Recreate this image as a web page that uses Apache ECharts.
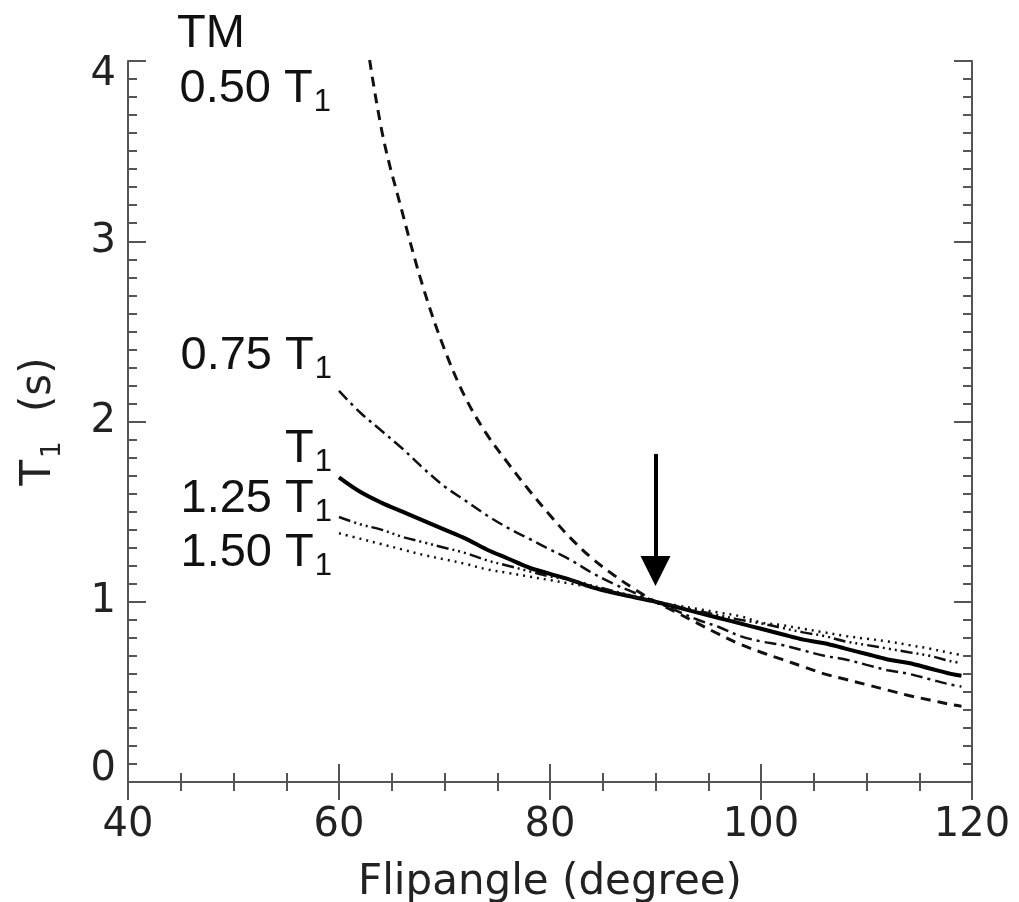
<!DOCTYPE html>
<html>
<head>
<meta charset="utf-8">
<script src="https://cdn.jsdelivr.net/npm/echarts@6/dist/echarts.min.js"></script>
<style>
html,body{margin:0;padding:0;background:#fff;}
#chart{width:1019px;height:902px;}
</style>
</head>
<body>
<div id="chart"></div>
<script>
// Flip angle samples (degree) shared by all curves
const flipAngles = [60,62,64,66,68,70,72,74,76,78,80,82,84,86,88,90,92,94,96,98,100,102,104,106,108,110,112,114,116,118,119];
// Estimated T1 (s) for each TM setting
const t1_TM050 = [5.6,4.4,3.63,3.16,2.74,2.40,2.13,1.93,1.77,1.62,1.48,1.35,1.24,1.15,1.07,1.00,0.94,0.88,0.82,0.765,0.72,0.68,0.64,0.60,0.57,0.54,0.51,0.48,0.455,0.43,0.42];
const t1_TM075 = [2.17,2.05,1.95,1.85,1.74,1.64,1.56,1.48,1.41,1.35,1.29,1.23,1.16,1.10,1.05,1.00,0.95,0.90,0.86,0.81,0.78,0.76,0.73,0.70,0.68,0.65,0.62,0.60,0.57,0.54,0.53];
const t1_TM100 = [1.69,1.61,1.55,1.50,1.45,1.40,1.35,1.29,1.24,1.19,1.155,1.12,1.08,1.05,1.025,1.00,0.97,0.94,0.91,0.88,0.85,0.82,0.79,0.77,0.74,0.71,0.68,0.66,0.63,0.60,0.59];
const t1_TM125 = [1.47,1.43,1.40,1.36,1.33,1.30,1.27,1.23,1.20,1.17,1.14,1.12,1.09,1.06,1.03,1.00,0.975,0.95,0.925,0.90,0.88,0.855,0.83,0.81,0.78,0.76,0.74,0.72,0.70,0.67,0.66];
const t1_TM150 = [1.38,1.35,1.32,1.29,1.26,1.235,1.21,1.18,1.16,1.14,1.12,1.10,1.08,1.05,1.03,1.00,0.98,0.96,0.94,0.92,0.885,0.87,0.85,0.83,0.81,0.795,0.78,0.76,0.74,0.715,0.705];
// Arrow marking the nominal 90 degree flip angle
const arrowX = 90;
const arrowFromY = 1.82;
const arrowToY = 1.17;
// Tick labels / axis ranges
const xMin = 40, xMax = 120, xStep = 20;
const yMin = 0, yMax = 4, yStep = 1;

function pairs(ys){ return flipAngles.map((x,i)=>[x, ys[i]]); }

const chart = echarts.init(document.getElementById('chart'), null, {renderer:'canvas'});
const axisColor = '#555';
const tickFont = 'DejaVu Sans';
const annFont = 'Liberation Sans';

const baseX = {
  type:'value', min:xMin, max:xMax, interval:xStep,
  axisLine:{show:true, lineStyle:{color:axisColor, width:2}},
  axisTick:{show:true, inside:true, length:18, lineStyle:{color:axisColor, width:2}},
  minorTick:{show:true, splitNumber:4, length:9, lineStyle:{color:axisColor, width:2}},
  splitLine:{show:false}, minorSplitLine:{show:false}
};
const baseY = {
  type:'value', min:yMin, max:yMax, interval:yStep,
  axisLine:{show:true, lineStyle:{color:axisColor, width:2}},
  axisTick:{show:true, inside:true, length:18, lineStyle:{color:axisColor, width:2}},
  minorTick:{show:true, splitNumber:10, length:9, lineStyle:{color:axisColor, width:2}},
  splitLine:{show:false}, minorSplitLine:{show:false}
};

function sub(a, b){ return '{a|' + a + '}{b|' + b + '}'; }
const annRich = {
  a:{fontSize:47, fontFamily:annFont, color:'#111', lineHeight:52, verticalAlign:'top'},
  b:{fontSize:31, fontFamily:annFont, color:'#111', lineHeight:31, verticalAlign:'bottom', padding:[23,0,0,1]}
};
function annText(txt, x, y, align){
  return {type:'text', x:x, y:y, silent:true,
    style:{text:txt, rich:annRich, align:align, verticalAlign:'top', fill:'#111'}};
}

const yLabelRich = {
  v:{fontSize:40, fontFamily:tickFont, color:'#222'},
  lo:{fontSize:40, fontFamily:tickFont, color:'#222', padding:[0,0,24,0]},
  hi:{fontSize:40, fontFamily:tickFont, color:'#222', padding:[28,0,0,0]}
};

const option = {
  animation:false,
  backgroundColor:'#fff',
  grid:{left:128, right:47, top:61, bottom:120, containLabel:false, outerBoundsMode:'none'},
  xAxis:[
    Object.assign({}, baseX, {
      position:'bottom',
      axisLabel:{show:true, margin:24, fontSize:40, fontFamily:tickFont, color:'#222'},
      name:'Flipangle (degree)', nameLocation:'middle', nameGap:80,
      nameTextStyle:{fontSize:42, fontFamily:tickFont, color:'#222'}
    }),
    Object.assign({}, baseX, {position:'top', axisLabel:{show:false}})
  ],
  yAxis:[
    Object.assign({}, baseY, {
      position:'left',
      axisLabel:{show:true, margin:12, color:'#222',
        formatter:function(v){
          if (v === yMin) return '{lo|' + v + '}';
          if (v === yMax) return '{hi|' + v + '}';
          return '{v|' + v + '}';
        },
        rich:yLabelRich},
      name:'{a|T}{b|1}{a| (s)}', nameLocation:'middle', nameGap:62, nameRotate:90,
      nameTextStyle:{
        rich:{
          a:{fontSize:42, fontFamily:tickFont, color:'#222', lineHeight:48, verticalAlign:'top'},
          b:{fontSize:26, fontFamily:tickFont, color:'#222', lineHeight:26, verticalAlign:'bottom', padding:[22,16,0,2]}
        }
      }
    }),
    Object.assign({}, baseY, {position:'right', axisLabel:{show:false}})
  ],
  series:[
    {name:'0.50 T1', type:'line', data:pairs(t1_TM050), showSymbol:false, smooth:0.35,
     lineStyle:{color:'#111', width:3, type:[10,7]}},
    {name:'0.75 T1', type:'line', data:pairs(t1_TM075), showSymbol:false, smooth:0.35,
     lineStyle:{color:'#111', width:2.5, type:[12,5,3,5]}},
    {name:'T1', type:'line', data:pairs(t1_TM100), showSymbol:false, smooth:0.35,
     lineStyle:{color:'#000', width:4, type:'solid'}},
    {name:'1.25 T1', type:'line', data:pairs(t1_TM125), showSymbol:false, smooth:0.35,
     lineStyle:{color:'#111', width:2.5, type:[12,4,2,4,2,4,2,4]}},
    {name:'1.50 T1', type:'line', data:pairs(t1_TM150), showSymbol:false, smooth:0.35,
     lineStyle:{color:'#111', width:2.5, type:[2,5]},
     markLine:{
       silent:true, animation:false,
       symbol:['none','triangle'], symbolSize:[30,30],
       label:{show:false},
       lineStyle:{color:'#000', width:4, type:'solid'},
       emphasis:{disabled:true},
       data:[[{coord:[arrowX, arrowFromY]},{coord:[arrowX, arrowToY]}]]
     }}
  ],
  graphic:[
    annText('{a|TM}', 177, 11, 'left'),
    annText(sub('0.50 T','1'), 331, 66, 'right'),
    annText(sub('0.75 T','1'), 332, 333, 'right'),
    annText(sub('T','1'), 332, 426, 'right'),
    annText(sub('1.25 T','1'), 332, 476, 'right'),
    annText(sub('1.50 T','1'), 332, 530, 'right')
  ]
};
chart.setOption(option);
</script>
</body>
</html>
